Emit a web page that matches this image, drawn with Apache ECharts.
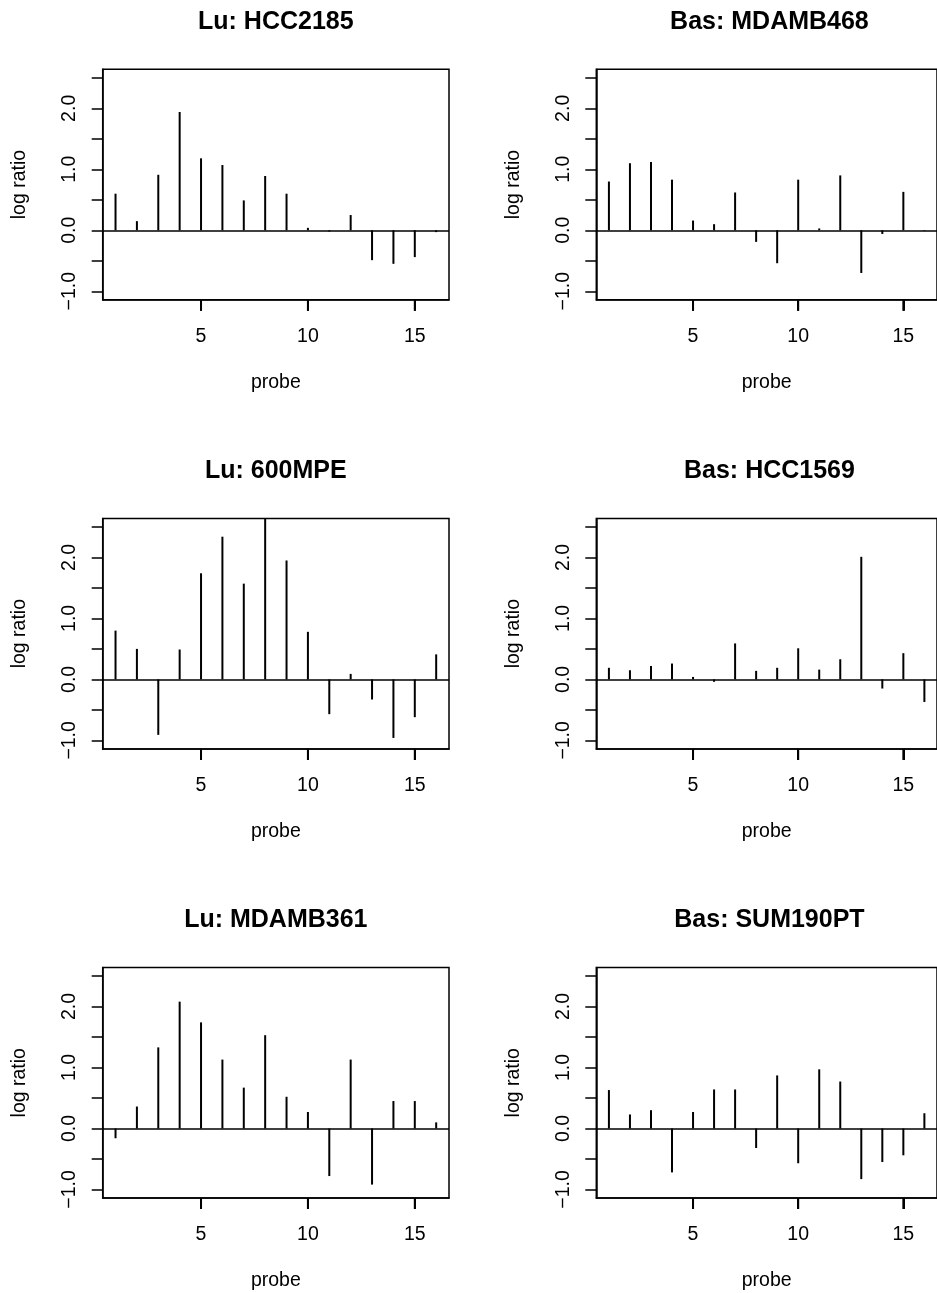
<!DOCTYPE html>
<html>
<head>
<meta charset="utf-8">
<script src="https://cdn.jsdelivr.net/npm/echarts@6/dist/echarts.min.js"></script>
<style>
html,body{margin:0;padding:0;background:#fff;}
#chart{width:937px;height:1293px;}
</style>
</head>
<body>
<div id="chart"></div>
<script>
// ---- data ----
const probes = [1,2,3,4,5,6,7,8,9,10,11,12,13,14,15,16];
const titles = ["Lu: HCC2185","Bas: MDAMB468","Lu: 600MPE","Bas: HCC1569","Lu: MDAMB361","Bas: SUM190PT"];
const hcc2185  = [0.60,0.15,0.91,1.94,1.18,1.07,0.49,0.89,0.60,0.04,-0.02,0.25,-0.49,-0.55,-0.44,-0.03];
const mdamb468 = [0.80,1.10,1.12,0.83,0.16,0.10,0.62,-0.19,-0.54,0.83,0.03,0.90,-0.70,-0.06,0.63,-0.01];
const mpe600   = [0.80,0.50,-0.91,0.49,1.74,2.34,1.57,2.80,1.95,0.78,-0.57,0.09,-0.33,-0.96,-0.62,0.41];
const hcc1569  = [0.19,0.15,0.22,0.26,0.04,-0.04,0.59,0.14,0.19,0.51,0.16,0.33,2.01,-0.15,0.43,-0.37];
const mdamb361 = [-0.16,0.36,1.33,2.08,1.74,1.13,0.67,1.53,0.52,0.27,-0.78,1.13,-0.92,0.45,0.45,0.10];
const sum190pt = [0.63,0.23,0.30,-0.72,0.27,0.64,0.64,-0.32,0.87,-0.57,0.97,0.77,-0.83,-0.55,-0.44,0.25];
const xTicks = [5,10,15];
const yTicks = [-1,-0.5,0,0.5,1,1.5,2,2.5];
const yLabels = [-1,0,1,2];
const xLabel = "probe";
const yLabel = "log ratio";

const panels = [hcc2185, mdamb468, mpe600, hcc1569, mdamb361, sum190pt];

// ---- layout ----
const FONT = "Liberation Sans, Arial, Helvetica, sans-serif";
const colLeft = [102.7, 596.3];
const gridW = 346.3;
const rowTop = [69.3, 518.4, 967.5];
const gridH = 230.5;
const TICK_LEN = 11;
const YMIN = -1.14, YMAX = 2.64;

const grids = [], xAxes = [], yAxes = [], series = [], titleArr = [];
panels.forEach((vals, i) => {
  const col = i % 2, row = Math.floor(i / 2);
  grids.push({
    left: colLeft[col], top: rowTop[row], width: gridW, height: gridH,
    show: true, borderColor: '#000', borderWidth: 1.5, backgroundColor: 'transparent',
    containLabel: false
  });
  titleArr.push({
    text: titles[i],
    left: colLeft[col] + gridW / 2,
    top: rowTop[row] - 60,
    textAlign: 'center',
    padding: 0,
    textStyle: { fontFamily: FONT, fontWeight: 'bold', fontSize: 25, color: '#000' }
  });
  // main y axis (index 2i) and a hidden helper y axis (index 2i+1) whose zero
  // sits at the bottom edge, so the x axis (on zero of the helper) lies on the box bottom
  yAxes.push({
    gridIndex: i, type: 'value', min: YMIN, max: YMAX, position: 'left',
    axisLine: { show: true, onZero: false, lineStyle: { color: '#000', width: 1.5 } },
    splitLine: { show: false },
    axisTick: { show: true, inside: false, length: TICK_LEN, customValues: yTicks,
                lineStyle: { color: '#000', width: 1.5 } },
    axisLabel: { show: true, customValues: yLabels, rotate: 90, margin: 23,
                 fontFamily: FONT, fontSize: 19.5, color: '#000',
                 formatter: v => (v < 0 ? '\u2212' : '') + Math.abs(v).toFixed(1) },
    name: yLabel, nameLocation: 'middle', nameGap: 73, nameRotate: 90,
    nameTextStyle: { fontFamily: FONT, fontSize: 19.5, color: '#000' }
  });
  yAxes.push({
    gridIndex: i, type: 'value', min: 0, max: YMAX - YMIN, position: 'right',
    axisLine: { show: false, onZero: false },
    axisTick: { show: false }, axisLabel: { show: false }, splitLine: { show: false }
  });
  xAxes.push({
    gridIndex: i, type: 'value', min: 0.4, max: 16.6, position: 'bottom',
    axisLine: { show: true, onZero: true, onZeroAxisIndex: 2 * i + 1,
                lineStyle: { color: '#000', width: 1.5 } },
    splitLine: { show: false },
    axisTick: { show: true, inside: false, length: TICK_LEN, customValues: xTicks,
                lineStyle: { color: '#000', width: 2 } },
    axisLabel: { show: true, customValues: xTicks, margin: 27,
                 fontFamily: FONT, fontSize: 19.5, color: '#000' },
    name: xLabel, nameLocation: 'middle', nameGap: 73,
    nameTextStyle: { fontFamily: FONT, fontSize: 19.5, color: '#000' }
  });
  series.push({
    type: 'bar', xAxisIndex: i, yAxisIndex: 2 * i,
    data: probes.map((p, k) => [p, vals[k]]),
    barWidth: 2, clip: true,
    itemStyle: { color: '#000' },
    silent: true, animation: false,
    markLine: {
      silent: true, symbol: 'none', animation: false,
      label: { show: false },
      lineStyle: { color: '#000', width: 1.5, type: 'solid' },
      data: [{ yAxis: 0 }]
    }
  });
});

const chart = echarts.init(document.getElementById('chart'), null, { renderer: 'canvas' });
chart.setOption({
  backgroundColor: '#fff',
  animation: false,
  title: titleArr,
  grid: grids,
  xAxis: xAxes,
  yAxis: yAxes,
  series: series
});

// backup x tick marks below each box, placed through the chart's own scales
const tickGraphics = [];
panels.forEach((vals, i) => {
  xTicks.forEach(t => {
    const p = chart.convertToPixel({ xAxisIndex: i, yAxisIndex: 2 * i }, [t, YMIN]);
    if (!p || !isFinite(p[0]) || !isFinite(p[1])) return;
    tickGraphics.push({
      type: 'line', z: 100, silent: true,
      shape: { x1: p[0], y1: p[1], x2: p[0], y2: p[1] + TICK_LEN },
      style: { stroke: '#000', lineWidth: 2 }
    });
  });
});
chart.setOption({ graphic: { elements: tickGraphics } });
</script>
</body>
</html>
